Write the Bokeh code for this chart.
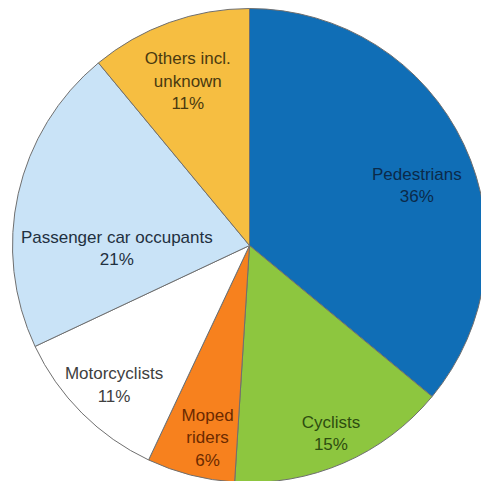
import math
from bokeh.plotting import figure
from bokeh.models import Range1d, ColumnDataSource
from bokeh.core.properties import value
from bokeh.embed import file_html
from bokeh.resources import INLINE

# ---- data ----
categories = ["Pedestrians", "Cyclists", "Moped riders", "Motorcyclists",
              "Passenger car occupants", "Others incl. unknown"]
shares = [36, 15, 6, 11, 21, 11]
label_lines = [["Pedestrians", "36%"], ["Cyclists", "15%"], ["Moped", "riders", "6%"],
               ["Motorcyclists", "11%"], ["Passenger car occupants", "21%"],
               ["Others incl.", "unknown", "11%"]]
colors = ["#106eb6", "#8dc63f", "#f7811e", "#ffffff", "#c9e3f7", "#f6be41"]
text_colors = ["#0b2a4a", "#2d4d10", "#6b2a00", "#404040", "#1f3040", "#4a3a10"]

# ---- layout ----
W = H = 481
CX, CY, R = 249, 236, 237
label_r_frac = [0.75, 0.865, 0.83, 0.82, 0.56, 0.74]
label_ang_off = [5.5, 0.0, -2.1, -0.8, -13.9, -0.8]
LINE_H = 22.5

p = figure(width=W, height=H, output_backend="svg", toolbar_location=None,
           x_range=Range1d(0, W), y_range=Range1d(0, H), min_border=0)
p.axis.visible = False
p.grid.visible = False
p.outline_line_color = None
p.background_fill_color = "white"
p.border_fill_color = "white"

total = float(sum(shares))
starts, ends, mids = [], [], []
acc = 0.0
for s in shares:
    a0 = acc / total * 2 * math.pi
    acc += s
    a1 = acc / total * 2 * math.pi
    starts.append(math.pi / 2 - a0)
    ends.append(math.pi / 2 - a1)
    mids.append((a0 + a1) / 2)

src = ColumnDataSource(dict(x=[CX] * len(shares), y=[CY] * len(shares),
                            start=starts, end=ends, color=colors, cat=categories))
p.wedge(x="x", y="y", radius=R, start_angle="start", end_angle="end",
        direction="clock", fill_color="color", line_color="#6f6f6f",
        line_width=1, source=src)

tx, ty, tt, tc = [], [], [], []
for i, lines in enumerate(label_lines):
    th = mids[i] + math.radians(label_ang_off[i])
    r = R * label_r_frac[i]
    bx = CX + r * math.sin(th)
    by = CY + r * math.cos(th)
    n = len(lines)
    for j, ln in enumerate(lines):
        tx.append(bx)
        ty.append(by + ((n - 1) / 2 - j) * LINE_H)
        tt.append(ln)
        tc.append(text_colors[i])

p.text(x=tx, y=ty, text=tt, text_color=tc, text_align="center",
       text_baseline="middle", text_font=value("Liberation Sans"),
       text_font_size="17px")

open("out.html", "w").write(file_html(p, INLINE))
